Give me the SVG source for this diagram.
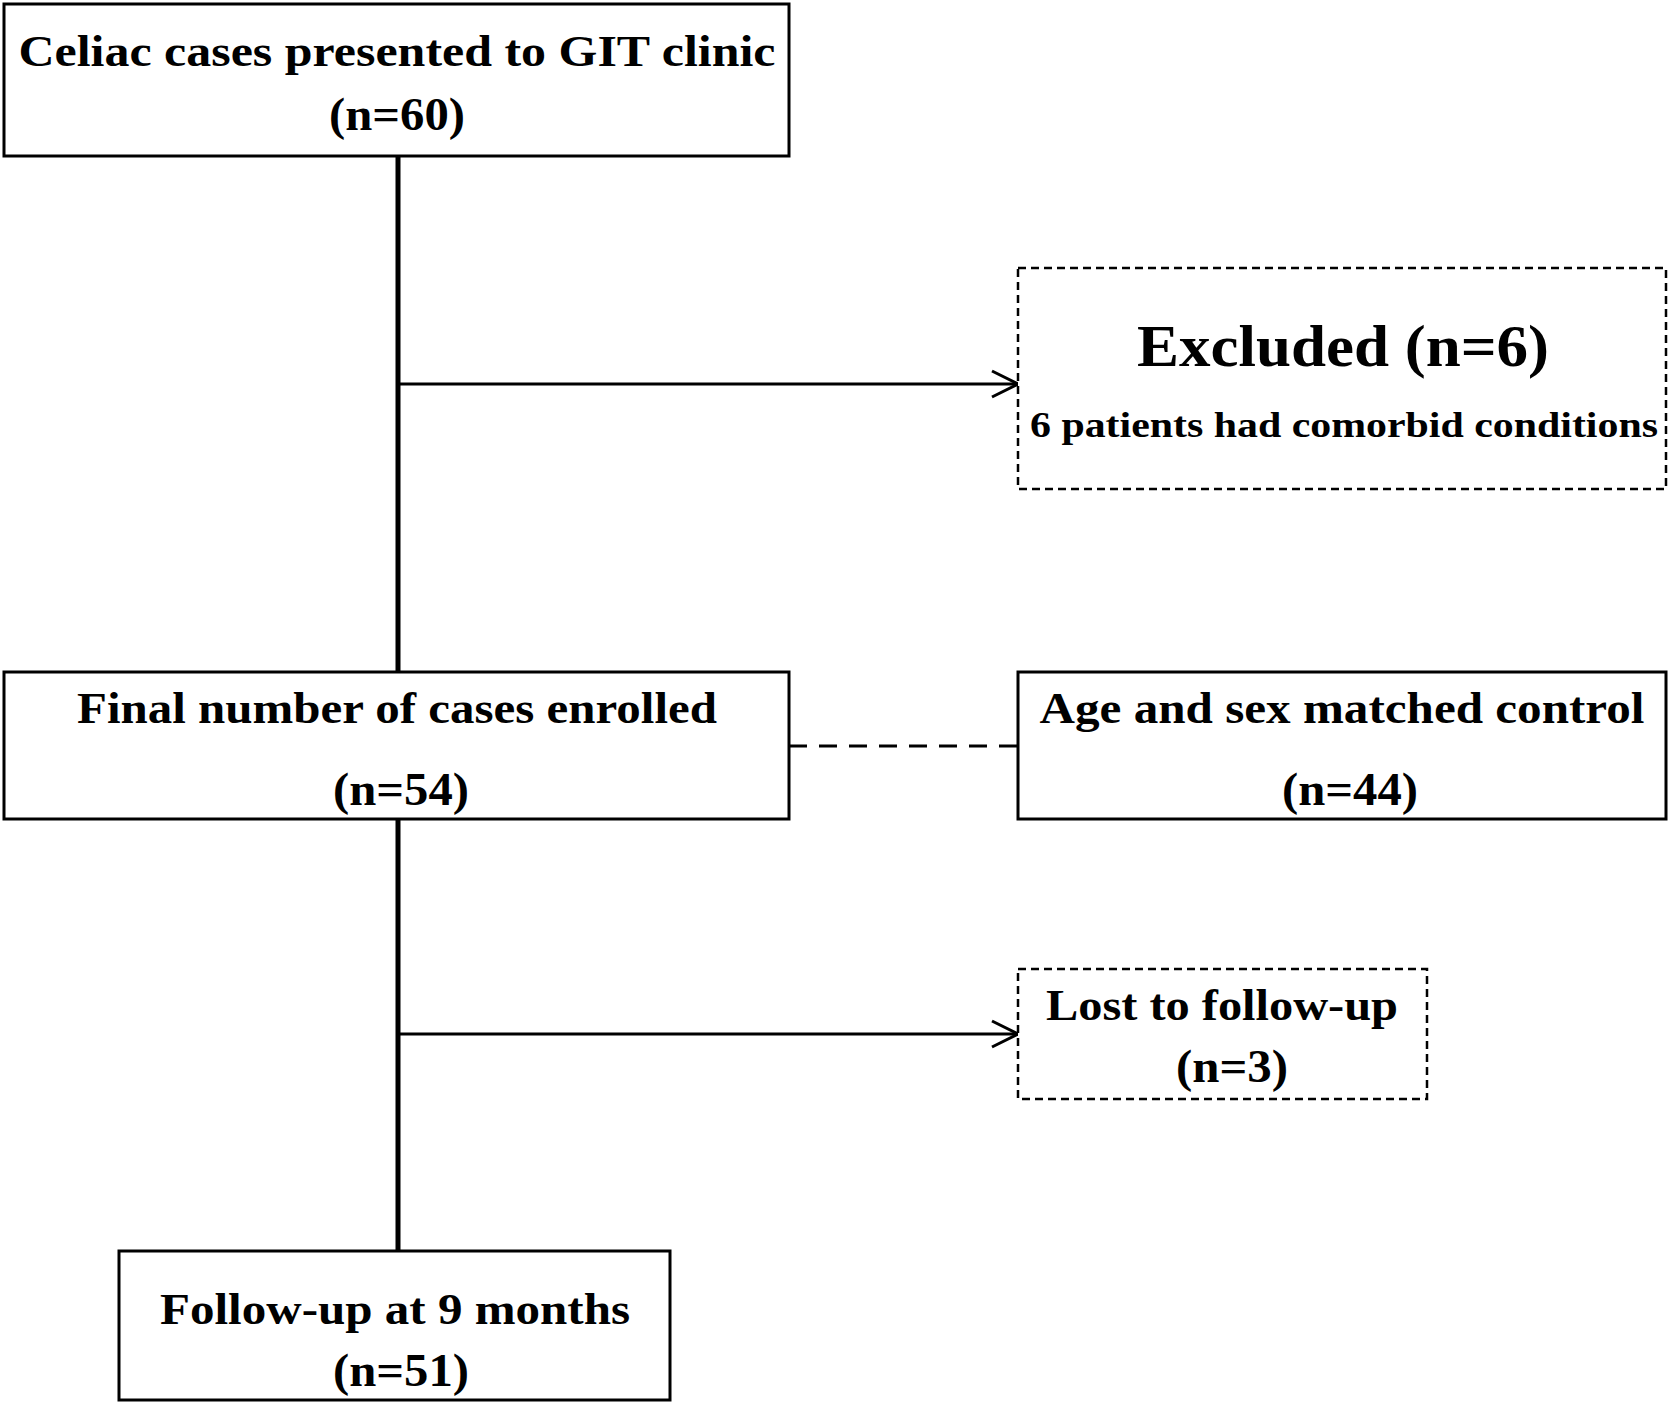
<svg xmlns="http://www.w3.org/2000/svg" width="1672" height="1407" viewBox="0 0 1672 1407">
<defs>
<style>
.box{fill:#fff;stroke:#000;stroke-width:3}
.dbox{fill:#fff;stroke:#000;stroke-width:2.5;stroke-dasharray:8,5}
.line{stroke:#000;stroke-width:5;fill:none}
.arr{stroke:#000;stroke-width:3;fill:none}
text{font-family:"Liberation Serif","Times New Roman",serif;font-weight:bold;text-anchor:middle;fill:#000}
.t{font-size:44px}
.n{font-size:46px}
.big{font-size:60px}
.small{font-size:36px}
</style>
<marker id="ah" markerWidth="30" markerHeight="30" refX="28" refY="15" markerUnits="userSpaceOnUse" orient="auto">
<path d="M2,2 L28,15 L2,28" fill="none" stroke="#000" stroke-width="3"/>
</marker>
</defs>
<rect width="1672" height="1407" fill="#fff"/>
<g id="connectors">
<line class="line" x1="398" y1="156" x2="398" y2="672"/>
<line class="line" x1="398" y1="819" x2="398" y2="1251"/>
<line class="arr" x1="398" y1="384" x2="1018" y2="384" marker-end="url(#ah)"/>
<line class="arr" x1="398" y1="1034" x2="1018" y2="1034" marker-end="url(#ah)"/>
<line class="arr" x1="789" y1="746" x2="1018" y2="746" stroke-dasharray="18,12"/>
</g>
<g id="n1">
<rect class="box" x="4" y="4" width="785" height="152"/>
<text class="t" x="397" y="66" textLength="757" lengthAdjust="spacingAndGlyphs">Celiac  cases presented to GIT clinic</text>
<text class="n" x="397" y="130" textLength="136" lengthAdjust="spacingAndGlyphs">(n=60)</text>
</g>
<g id="n2">
<rect class="dbox" x="1018" y="268" width="648" height="221"/>
<text class="big" x="1343" y="366" textLength="412" lengthAdjust="spacingAndGlyphs">Excluded (n=6)</text>
<text class="small" x="1344" y="437" textLength="628" lengthAdjust="spacingAndGlyphs">6 patients had comorbid conditions</text>
</g>
<g id="n3">
<rect class="box" x="4" y="672" width="785" height="147"/>
<text class="t" x="397" y="723" textLength="640" lengthAdjust="spacingAndGlyphs">Final number of cases enrolled</text>
<text class="n" x="401" y="805" textLength="136" lengthAdjust="spacingAndGlyphs">(n=54)</text>
</g>
<g id="n4">
<rect class="box" x="1018" y="672" width="648" height="147"/>
<text class="t" x="1342" y="723" textLength="605" lengthAdjust="spacingAndGlyphs">Age and sex matched control</text>
<text class="n" x="1350" y="805" textLength="136" lengthAdjust="spacingAndGlyphs">(n=44)</text>
</g>
<g id="n5">
<rect class="dbox" x="1018" y="969" width="409" height="130"/>
<text class="t" x="1222" y="1020" textLength="352" lengthAdjust="spacingAndGlyphs">Lost to follow-up</text>
<text class="n" x="1232" y="1082" textLength="112" lengthAdjust="spacingAndGlyphs">(n=3)</text>
</g>
<g id="n6">
<rect class="box" x="119" y="1251" width="551" height="149"/>
<text class="t" x="395" y="1324" textLength="470" lengthAdjust="spacingAndGlyphs">Follow-up at 9 months</text>
<text class="n" x="401" y="1386" textLength="136" lengthAdjust="spacingAndGlyphs">(n=51)</text>
</g>
</svg>
